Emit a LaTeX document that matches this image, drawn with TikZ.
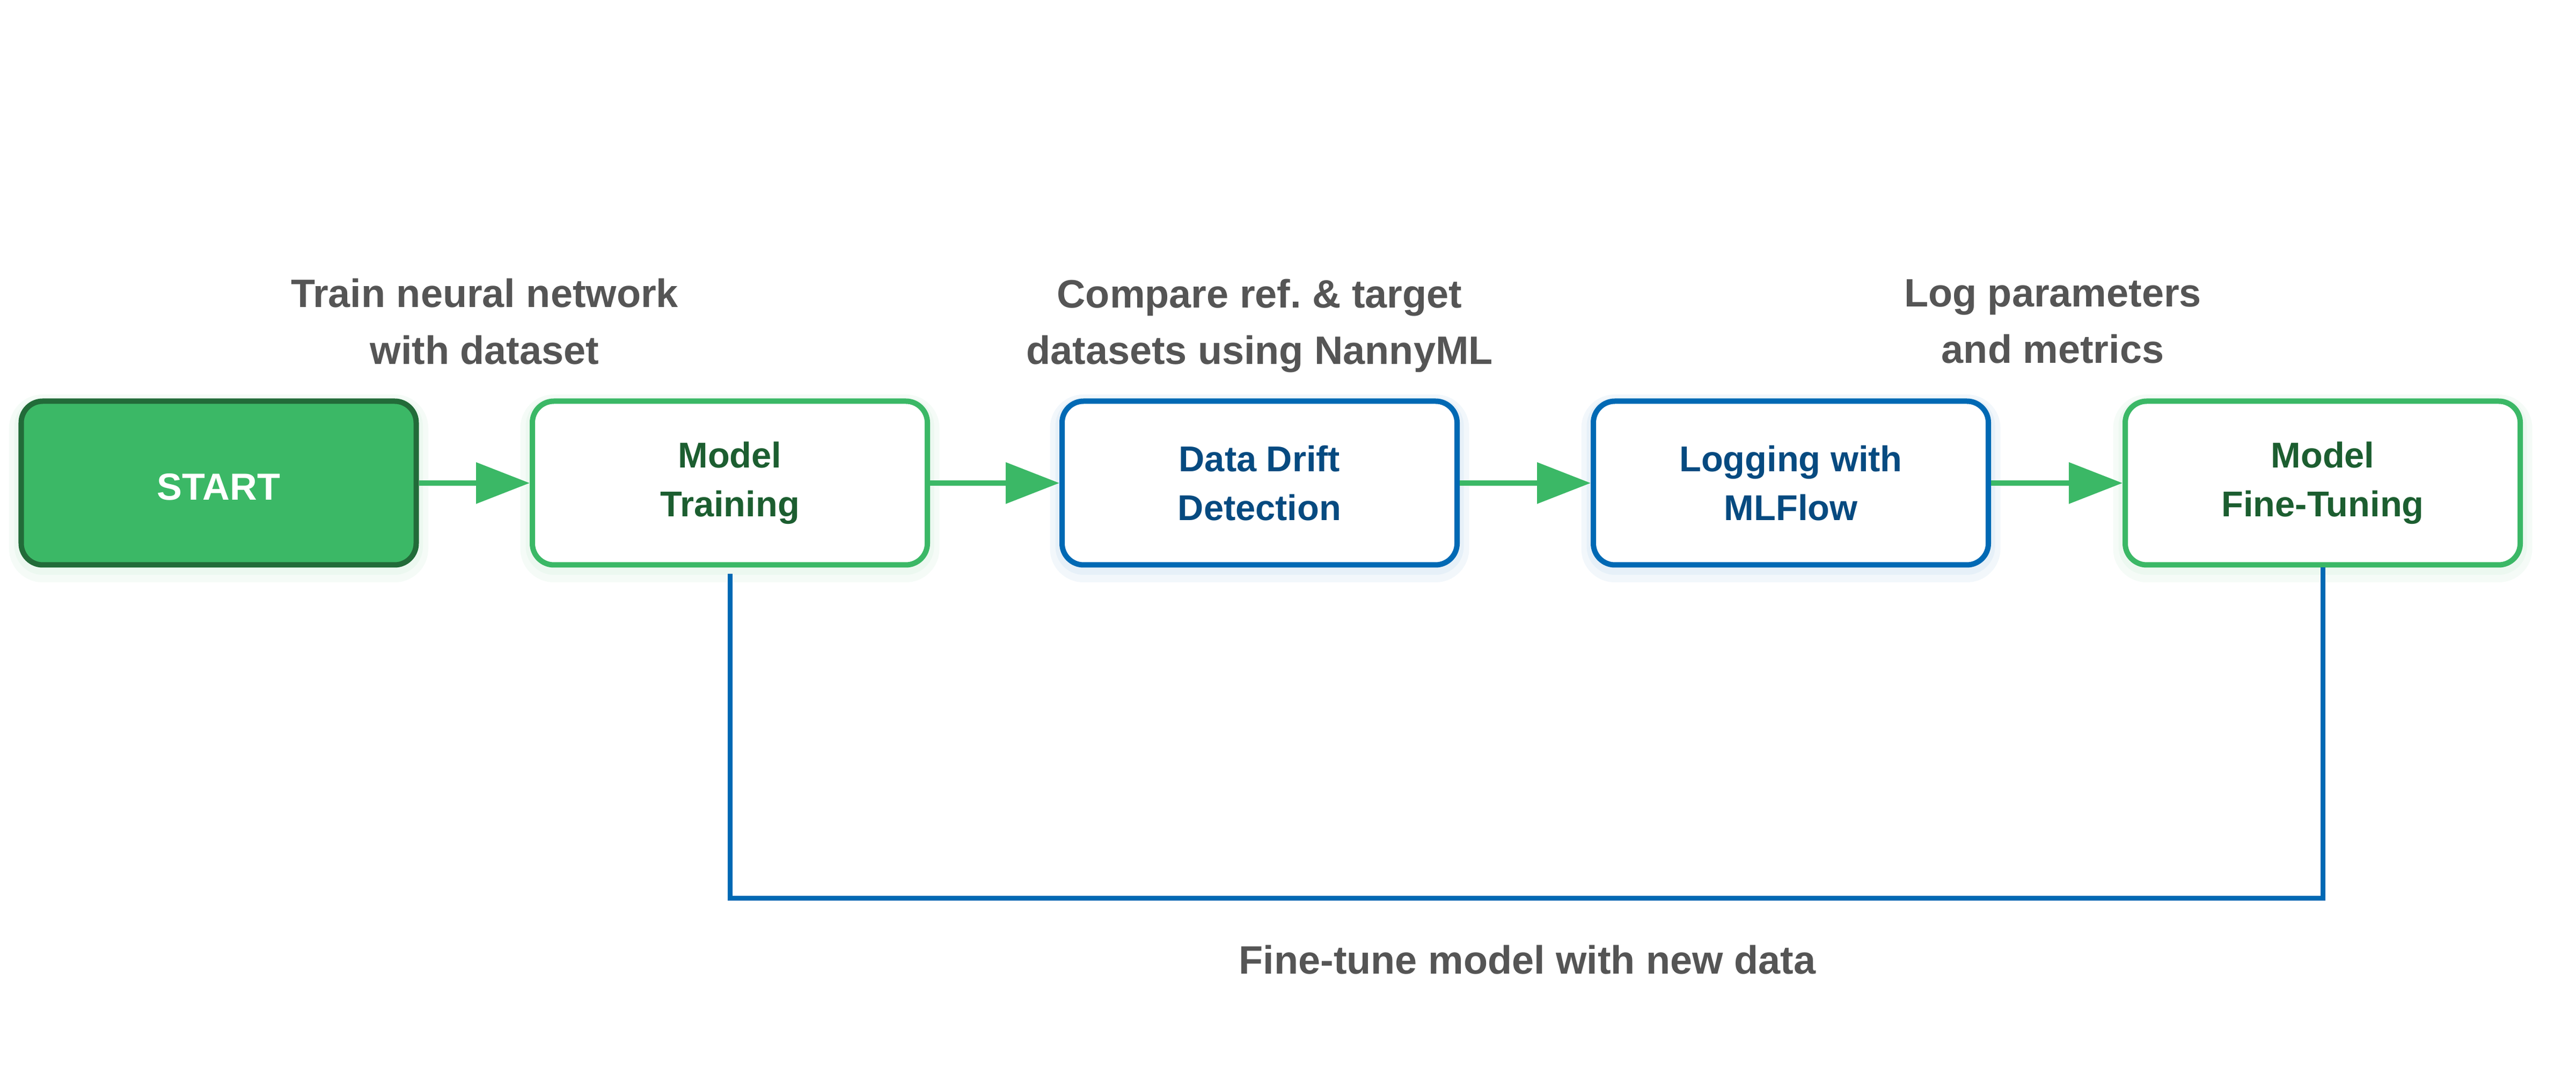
\documentclass[tikz,border=0pt]{standalone}
\usepackage{fontspec}
\setmainfont{Liberation Sans}
\usetikzlibrary{arrows.meta}
\definecolor{color_flow_green}{HTML}{3BB866}
\definecolor{color_flow_green_dark}{HTML}{226B39}
\definecolor{color_text_green}{HTML}{1C5E30}
\definecolor{color_flow_blue}{HTML}{0069B4}
\definecolor{color_text_blue}{HTML}{064A80}
\definecolor{color_label_gray}{HTML}{555555}
\def\flowboxwidth{7.36cm}
\def\flowboxheight{3.05cm}
\def\flowlinewidth{0.1cm}
\def\flowboxrow{11}
\def\flowlabelfont{\fontsize{21pt}{30pt}\selectfont\bfseries}
\def\flowboxfont{\fontsize{19pt}{26pt}\selectfont\bfseries}
\tikzset{
    flowbox/.style={draw, rounded corners=0.4cm, line width=\flowlinewidth,
        minimum width=\flowboxwidth, minimum height=\flowboxheight,
        inner sep=0pt, align=center, font=\flowboxfont, fill=white},
    % faint halo under the boxes
    flowglow/.style={preaction={draw=#1, draw opacity=0.05, line width=0.45cm,
        transform canvas={yshift=-0.1cm}},
        preaction={draw=#1, draw opacity=0.05, line width=0.25cm,
        transform canvas={yshift=-0.06cm}}},
    flowbox_green/.style={flowbox, flowglow=color_flow_green, draw=color_flow_green, text=color_text_green},
    flowbox_blue/.style={flowbox, flowglow=color_flow_blue, draw=color_flow_blue, text=color_text_blue},
    flowlabel/.style={text=color_label_gray, align=center, font=\flowlabelfont, inner sep=0pt},
    flowarrow/.style={draw=color_flow_green, line width=\flowlinewidth,
        -{Triangle[length=1cm, width=0.75cm]}},
    feedback/.style={draw=color_flow_blue, line width=0.09cm}
}

\begin{document}
\frenchspacing
\begin{tikzpicture}
        \useasboundingbox (0,0) rectangle (48,20);
        % boxes
        \node[flowbox, flowglow=color_flow_green, draw=color_flow_green_dark, fill=color_flow_green, text=white,
            font=\fontsize{20pt}{26pt}\selectfont\bfseries, text height=0.64cm, text depth=0pt]
            (box_start) at (4.075,\flowboxrow) {START};
        \node[flowbox_green] (box_train) at (13.60,\flowboxrow) {Model\\Training};
        \node[flowbox_blue] (box_drift) at (23.47,\flowboxrow) {Data Drift\\Detection};
        \node[flowbox_blue] (box_log) at (33.37,\flowboxrow) {Logging with\\MLFlow};
        \node[flowbox_green] (box_fine) at (43.28,\flowboxrow) {Model\\Fine-Tuning};
        % step labels
        \node[flowlabel] (label_train) at (9.03,14.01) {Train neural network\\with dataset};
        \node[flowlabel] (label_drift) at (23.47,13.93) {Compare ref. \& target\\datasets using NannyML};
        \node[flowlabel] (label_log) at (38.25,14.01) {Log parameters\\and metrics};
        \node[flowlabel, anchor=base] (label_fine) at (28.46,1.86) {Fine-tune model with new data};
        % connectors
        \draw[flowarrow] (box_start) -- (box_train);
        \draw[flowarrow] (box_train) -- (box_drift);
        \draw[flowarrow] (box_drift) -- (box_log);
        \draw[flowarrow] (box_log) -- (box_fine);
        \draw[feedback, shorten <=0.12cm] (box_train.south) -- ++(0,-6.165) -| (box_fine.south);
    \end{tikzpicture}
\end{document}
